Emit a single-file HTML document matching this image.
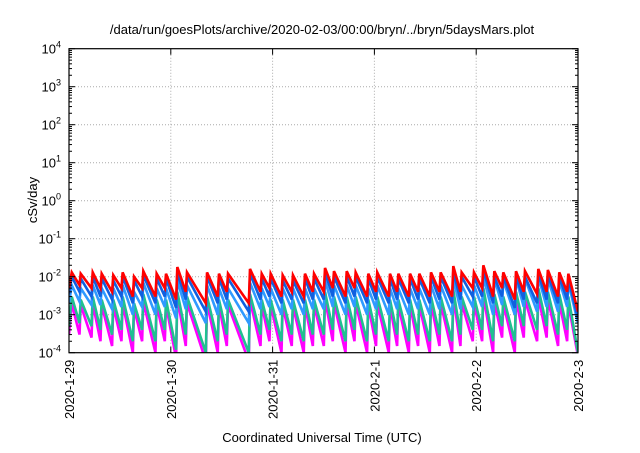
<!DOCTYPE html>
<html><head><meta charset="utf-8"><style>
body{margin:0;background:#fff}
svg text{font-family:"Liberation Sans",sans-serif;font-size:13px;fill:#000}
</style></head><body>
<svg id="c" width="640" height="448" xmlns="http://www.w3.org/2000/svg">
<text x="322" y="34" text-anchor="middle">/data/run/goesPlots/archive/2020-02-03/00:00/bryn/../bryn/5daysMars.plot</text>
<text x="322" y="442" text-anchor="middle">Coordinated Universal Time (UTC)</text>
<text transform="translate(37,200) rotate(-90)" text-anchor="middle">cSv/day</text>
<g id="grid"></g><g id="series"></g><g id="axes"></g>
</svg>
<script>
const xTickLabels=["2020-1-29","2020-1-30","2020-1-31","2020-2-1","2020-2-2","2020-2-3"];
const yTickExps=[4,3,2,1,0,-1,-2,-3,-4];
const peakDays=[0.027,0.115,0.233,0.321,0.435,0.527,0.639,0.730,0.861,0.953,1.064,1.159,1.356,1.473,1.562,1.778,1.893,1.981,2.099,2.200,2.318,2.407,2.515,2.603,2.728,2.816,2.940,3.028,3.153,3.235,3.350,3.441,3.556,3.651,3.775,3.857,3.978,4.070,4.178,4.266,4.391,4.479,4.610,4.704,4.816,4.905];
const redPeaks=[1.3,1.2,1.3,1.2,1.1,1.3,1.0,1.4,1.2,1.2,1.8,1.3,1.3,1.2,1.2,1.6,1.2,1.2,1.1,1.1,1.2,1.2,1.7,1.4,1.4,1.3,1.2,1.3,1.2,1.2,1.2,1.2,1.3,1.3,1.9,1.3,1.3,2.0,1.4,1.3,1.4,1.4,1.6,1.5,1.3,1.2].map(v=>v*1e-2);
const redTroughs=[6,5,5,4,5,3,5,3,5,2.5,4,2,3,4,2,4,5,3,4,3,4,4,5,3,5,3,4,3,4,3,4,3,4,3,4,5,5,3,5,2.5,4,3.5,4,3,4,1.2].map(v=>v*1e-3);
const bluePeaks=[1.0,0.9,1.0,0.9,0.8,1.0,0.8,1.1,0.9,0.9,1.3,1.0,1.0,0.9,0.9,1.2,0.9,0.9,0.8,0.8,0.9,0.9,1.3,1.0,1.0,1.0,0.9,1.0,0.9,0.9,0.9,0.9,1.0,1.0,1.4,1.0,1.0,1.5,1.0,1.0,1.0,1.0,1.2,1.1,1.0,0.9].map(v=>v*1e-2);
const blueTroughs=[4,3,3,2.5,3,2,3,2,3,1.5,2.5,1.2,2,2.5,1.2,2.5,3,2,2.5,2,2.5,2.5,3,2,3,2,2.5,2,2.5,2,2.5,2,2.5,2,2.5,3,3,2,3,1.5,2.5,2,2.5,2,2.5,0.8].map(v=>v*1e-3);
const lightPeaks=[6,5,6,5,5,6,4,7,5,5,8,6,6,5,5,7,5,5,5,5,5,5,8,6,6,6,5,6,5,5,5,5,6,6,9,6,6,10,9,8,9,9,10,9,8,7].map(v=>v*1e-3);
const lightTroughs=[2.2,1.8,1.8,1.4,1.6,1.0,1.6,1.0,1.6,0.8,1.4,0.6,1.0,1.4,0.6,1.4,1.6,1.0,1.4,1.0,1.4,1.4,1.6,1.0,1.6,1.0,1.4,1.0,1.4,1.0,1.4,1.0,1.4,1.0,1.4,1.6,1.6,1.0,1.8,1.0,1.6,1.2,1.6,1.2,1.6,0.6].map(v=>v*1e-3);
const greenPeaks=[3,2.5,3,2.5,2.5,3,2,3.5,2.5,2.5,4,3,3,2.5,2.5,3.5,2.5,2.5,2.5,2.5,2.5,2.5,4,3,3,3,2.5,3,2.5,2.5,2.5,2.5,3,3,4.5,3,3,5,3.5,3,4,4,5,4,3.5,3].map(v=>v*1e-3);
const greenTroughs=[6,5,4,3,4,2,4,2,4,1.2,3,1,2,3,1,3,4,2,3,2,3,3,4,2,4,2,3,2,3,2,3,2,3,2,3,4,4,2,5,2,5,4,5,3,4,1].map(v=>v*1e-4);
const magPeaks=[2,1.8,2,1.8,1.7,2,1.5,2.2,1.8,1.8,2.8,2,2,1.8,1.8,2.4,1.8,1.8,1.7,1.7,1.8,1.8,2.6,2,2,2,1.8,2,1.8,1.8,1.8,1.8,2,2,3,2,2,3.2,2.2,2,2.5,2.5,3,2.6,2.2,2].map(v=>v*1e-3);
const magTroughs=[3,2.5,2,1.5,2,1,2,1,2,0.7,1.5,0.6,1,1.5,0.6,1.5,2,1,1.5,1,1.5,1.5,2,1,2,1,1.5,1,1.5,1,1.5,1,1.5,1,1.5,2,2,1,2.5,1,2.5,2,2.5,1.5,2,0.8].map(v=>v*1e-4);
const startValues=[5e-3,3.5e-3,2e-3,5e-4,3e-4];

const L=69,R=578,T=48.7,B=352.7,NS="http://www.w3.org/2000/svg";
const xs=d=>L+d*(R-L)/5;
const ys=v=>T+(4-Math.log10(v))*(B-T)/8;
function mk(t,a,p){const e=document.createElementNS(NS,t);for(const k in a)e.setAttribute(k,a[k]);p.appendChild(e);return e;}
const grid=document.getElementById('grid'),axes=document.getElementById('axes'),ser=document.getElementById('series');
yTickExps.forEach(e=>{const y=ys(Math.pow(10,e));
 if(e<4&&e>-4){const g=mk('line',{x1:L,x2:R,y1:y,y2:y,stroke:'#aaa','stroke-dasharray':'1,2'},grid);
 
 }
 mk('line',{x1:L,x2:L+6,y1:y,y2:y,stroke:'#000'},axes);mk('line',{x1:R,x2:R-6,y1:y,y2:y,stroke:'#000'},axes);
 if(e>-4)for(let m=2;m<10;m++){const yy=ys(m*Math.pow(10,e-1));mk('line',{x1:L,x2:L+3,y1:yy,y2:yy,stroke:'#000'},axes);mk('line',{x1:R,x2:R-3,y1:yy,y2:yy,stroke:'#000'},axes);}
 const t=mk('text',{x:L-8,y:y+5,'text-anchor':'end'},axes);
 
 
 t.textContent='10';const s=mk('tspan',{dy:-6,'font-size':'9'},t);s.textContent=String(e);
});
xTickLabels.forEach((lab,i)=>{const x=xs(i);
 if(i>0&&i<5){const g=mk('line',{x1:x,x2:x,y1:T,y2:B,stroke:'#aaa','stroke-dasharray':'1,2'},grid);
 
 }
 mk('line',{x1:x,x2:x,y1:B,y2:B-6,stroke:'#000'},axes);mk('line',{x1:x,x2:x,y1:T,y2:T+6,stroke:'#000'},axes);
 const t=mk('text',{transform:`translate(${x+5},${B+7}) rotate(-90)`,'text-anchor':'end'},axes);
 
 
 t.textContent=lab;
});
const fr=mk('rect',{x:L,y:T,width:R-L,height:B-T,fill:'none',stroke:'#000','stroke-width':1.2},axes);


const cp=mk('clipPath',{id:'cl'},mk('defs',{},document.getElementById('c')));mk('rect',{x:L,y:T,width:R-L,height:B-T},cp);
ser.setAttribute('clip-path','url(#cl)');
const defs=[["magenta-series","#ff00ff",magPeaks,magTroughs,4],["green-series","#20c090",greenPeaks,greenTroughs,3],["light-blue-series","#2f9aff",lightPeaks,lightTroughs,2],["blue-series","#1060e0",bluePeaks,blueTroughs,1],["red-series","#ff0000",redPeaks,redTroughs,0]];
defs.forEach(([n,c,pk,tr,si])=>{
 const pts=[[xs(0),ys(startValues[si])]];
 peakDays.forEach((d,i)=>{
  if(i>0)pts.push([xs(d)-1.2,ys(tr[i-1])]);
  pts.push([xs(d),ys(pk[i])]);
 });
 pts.push([xs(5),ys(tr[tr.length-1])]);
 const p=mk('polyline',{points:pts.map(p=>p.join(',')).join(' '),fill:'none',stroke:c,'stroke-width':2.6,'stroke-linejoin':'miter'},ser);
 
 
});
</script>
</body></html>
